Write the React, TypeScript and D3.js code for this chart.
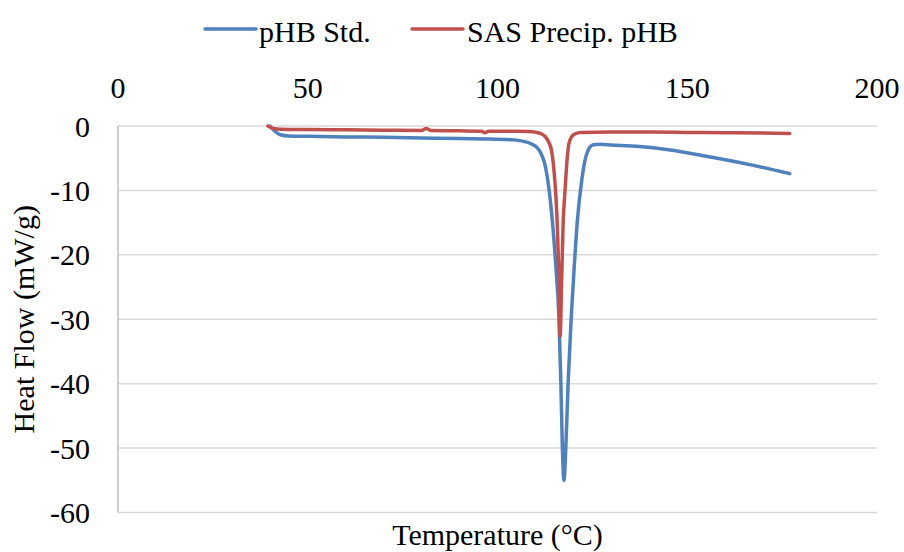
import React from "react";
import * as d3 from "d3";

const seriesNames = ["pHB Std.", "SAS Precip. pHB"];
const seriesColors = ["#4f81bd", "#c0504d"];

// pHB Std. : [temperature °C, heat flow mW/g]
const stdTemp = [40, 41, 42, 43, 45, 50, 60, 70, 80, 90, 98, 104, 107, 109, 110.5, 111.5, 112.5, 113.5, 114.5, 115.4, 116.2, 116.7, 117.1, 117.5, 118, 118.6, 119.4, 120.2, 121, 122.3, 123, 123.6, 124.3, 125.3, 127, 130, 137.5, 145, 155, 166.5, 177];
const stdFlow = [0, -0.6, -1.1, -1.4, -1.55, -1.6, -1.7, -1.75, -1.85, -1.95, -2.0, -2.15, -2.4, -2.8, -3.4, -4.3, -6, -9.5, -15, -22, -30, -40, -50, -55, -50, -40, -30, -22, -15, -8, -5.5, -4.2, -3.3, -2.9, -2.85, -2.95, -3.2, -3.7, -4.7, -6.0, -7.4];

// SAS Precip. pHB
const sasTemp = [39.5, 41, 43, 50, 60, 70, 80, 81.2, 82.5, 90, 95.8, 96.7, 97.6, 104, 108, 110, 111.5, 112.5, 113.5, 114.3, 114.9, 115.4, 115.8, 116.2, 116.5, 116.9, 117.3, 117.8, 118.3, 118.8, 119.5, 120.5, 122, 130, 140, 150, 160, 170, 177];
const sasFlow = [0, -0.4, -0.5, -0.55, -0.6, -0.65, -0.7, -0.4, -0.7, -0.75, -0.8, -1.05, -0.8, -0.82, -0.85, -0.95, -1.2, -1.6, -2.5, -4, -7, -11, -16, -24, -32.7, -24, -15, -10, -5.5, -2.8, -1.7, -1.2, -1.0, -0.95, -0.95, -1.0, -1.05, -1.1, -1.15];

const xTicks = [0, 50, 100, 150, 200];
const yTicks = [0, -10, -20, -30, -40, -50, -60];

const xTitle = "Temperature (°C)";
const yTitle = "Heat Flow (mW/g)";

const W = 904;
const H = 552;
const FONT = "'Liberation Serif', 'Times New Roman', serif";

export default function App() {
  const x = d3.scaleLinear().domain([0, 200]).range([118, 877]);
  const y = d3.scaleLinear().domain([0, -60]).range([126, 512.5]);

  const line = d3
    .line<[number, number]>()
    .x((d) => x(d[0]))
    .y((d) => y(d[1]))
    .curve(d3.curveMonotoneX);

  const series = [
    stdTemp.map((t, i) => [t, stdFlow[i]] as [number, number]),
    sasTemp.map((t, i) => [t, sasFlow[i]] as [number, number]),
  ];

  const legend = [
    { x1: 205, x2: 256, tx: 259 },
    { x1: 412, x2: 463, tx: 467 },
  ];

  return (
    <svg
      width={W}
      height={H}
      style={{ position: "absolute", left: 0, top: 0, background: "#fff" }}
      fontFamily={FONT}
    >
      {/* gridlines */}
      {yTicks.map((v) => (
        <line
          key={"g" + v}
          x1={x(0)}
          x2={x(200)}
          y1={y(v)}
          y2={y(v)}
          stroke="#d9d9d9"
          strokeWidth={1.5}
        />
      ))}
      {/* left axis line */}
      <line x1={x(0)} x2={x(0)} y1={y(0)} y2={y(-60)} stroke="#bfbfbf" strokeWidth={1.5} />

      {/* y tick labels */}
      {yTicks.map((v) => (
        <text
          key={"yt" + v}
          x={90}
          y={y(v)}
          dy="0.35em"
          textAnchor="end"
          fontSize={30}
          fill="#000"
        >
          {v}
        </text>
      ))}
      {/* x tick labels (top) */}
      {xTicks.map((v) => (
        <text key={"xt" + v} x={x(v)} y={98} textAnchor="middle" fontSize={30} fill="#000">
          {v}
        </text>
      ))}

      {/* series */}
      {series.map((s, i) => (
        <path
          key={"s" + i}
          d={line(s) || ""}
          fill="none"
          stroke={seriesColors[i]}
          strokeWidth={3.5}
          strokeLinejoin="round"
          strokeLinecap="round"
        />
      ))}

      {/* legend */}
      {legend.map((l, i) => (
        <g key={"l" + i}>
          <line x1={l.x1} x2={l.x2} y1={29} y2={29} stroke={seriesColors[i]} strokeWidth={3.5} strokeLinecap="round" />
          <text x={l.tx} y={42} fontSize={30} fill="#000">
            {seriesNames[i]}
          </text>
        </g>
      ))}

      {/* axis titles */}
      <text x={(x(0) + x(200)) / 2} y={545} textAnchor="middle" fontSize={30} fill="#000">
        {xTitle}
      </text>
      <text
        transform={`translate(34, ${(y(0) + y(-60)) / 2}) rotate(-90)`}
        textAnchor="middle"
        fontSize={30}
        fill="#000"
      >
        {yTitle}
      </text>
    </svg>
  );
}
